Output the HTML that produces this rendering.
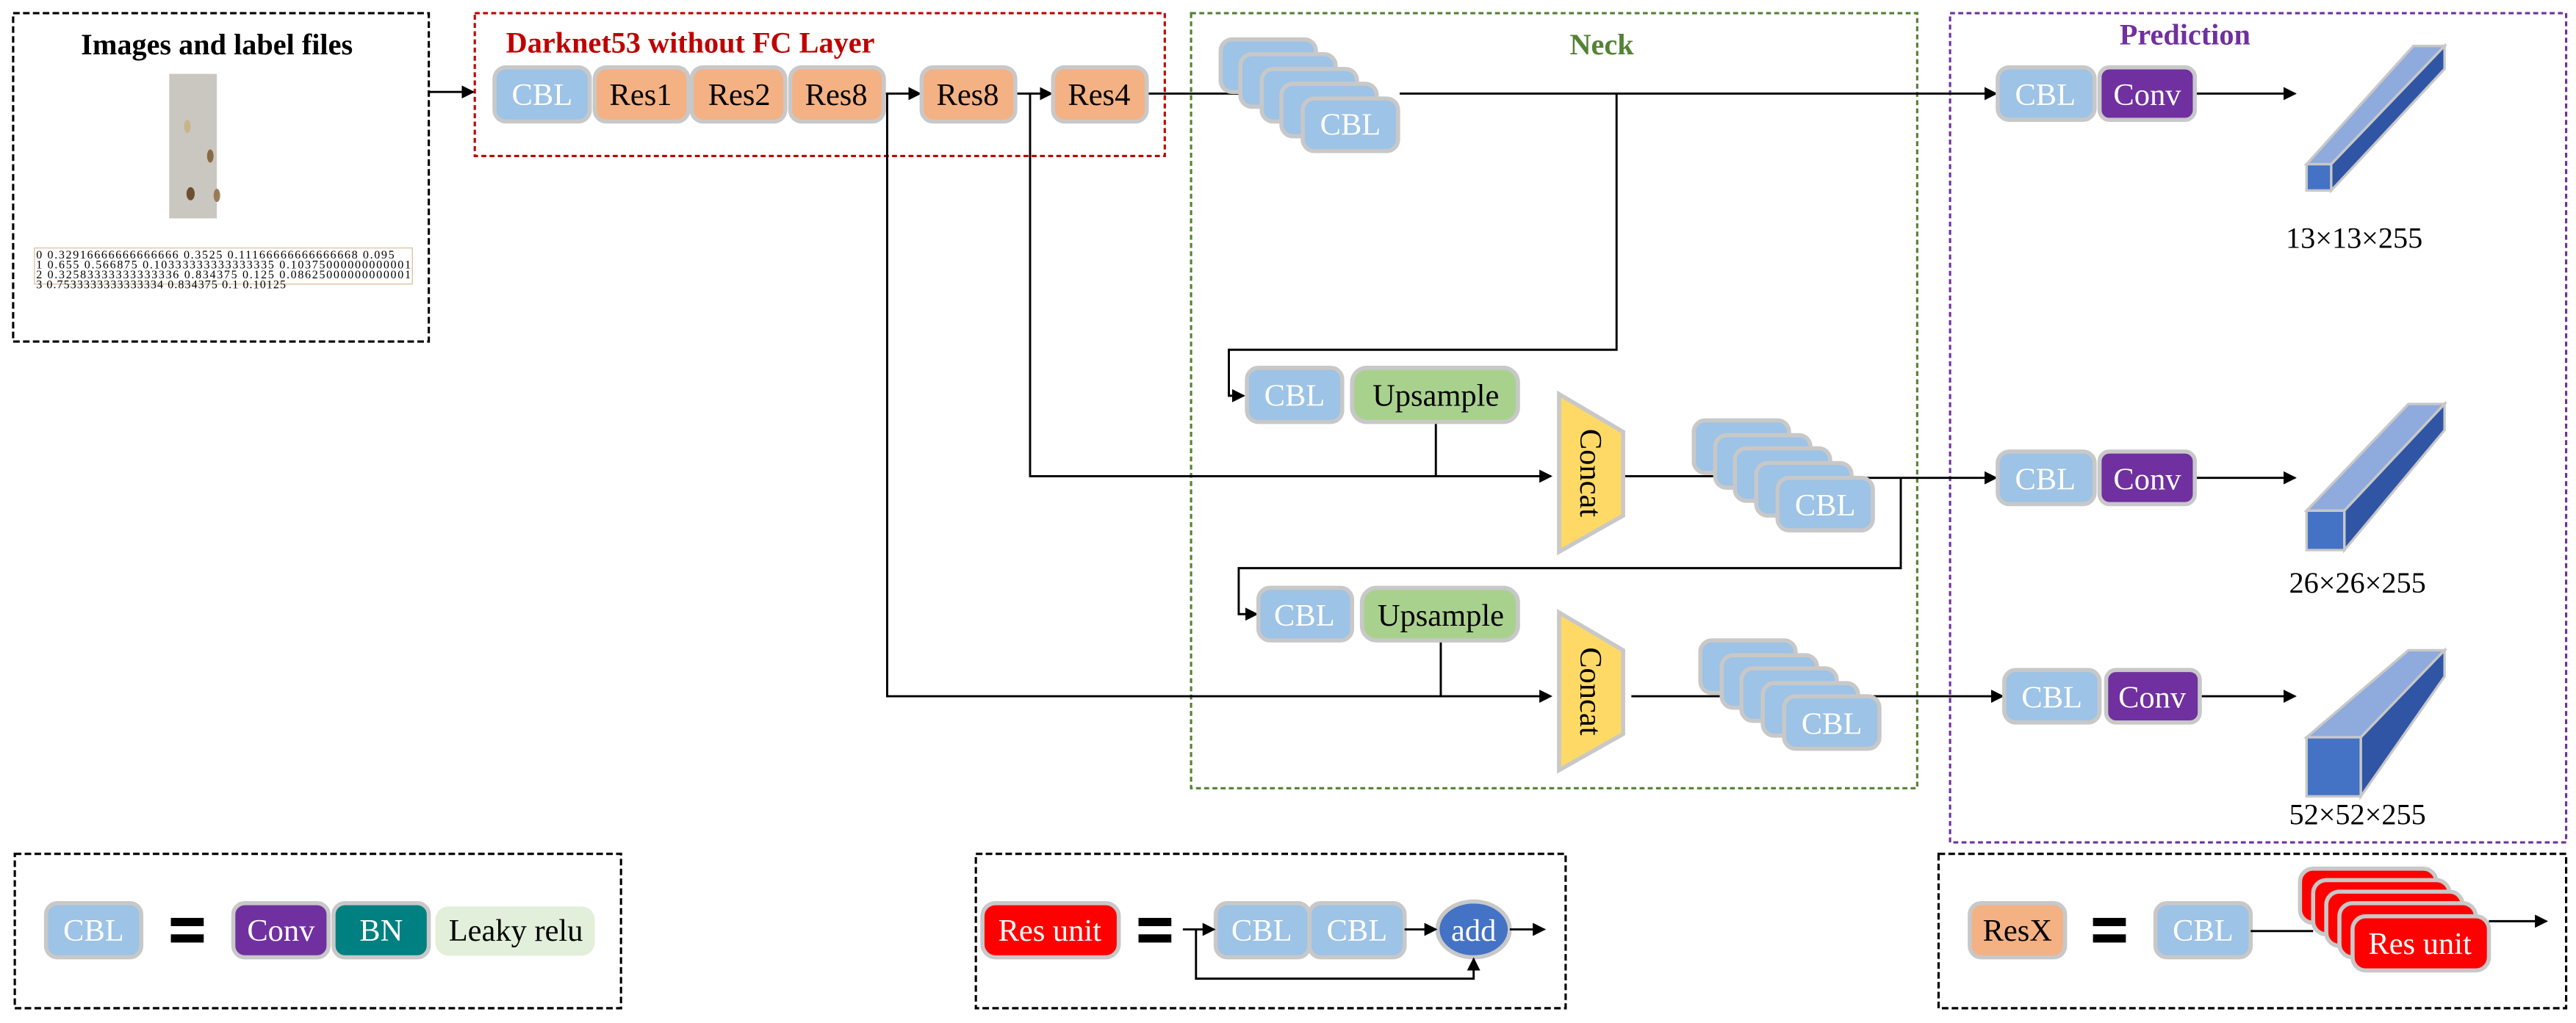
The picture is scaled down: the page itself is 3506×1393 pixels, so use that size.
<!DOCTYPE html>
<html><head><meta charset="utf-8"><style>
html,body{margin:0;padding:0;background:#fff}
svg{display:block}
svg text{font-family:"Liberation Serif","DejaVu Serif",serif !important}
</style></head><body>
<svg width="3506" height="1393" viewBox="0 0 1568 623" xmlns="http://www.w3.org/2000/svg" font-family="Liberation Serif, serif">
<defs>
<marker id="a" markerWidth="8" markerHeight="8" refX="7" refY="4" orient="auto" markerUnits="userSpaceOnUse"><path d="M0,0 L8,4 L0,8 z" fill="#000"/></marker>
</defs>
<g fill="none" stroke-width="1.4">
<rect x="8" y="8" width="253" height="200" stroke="#000" stroke-dasharray="4,2"/>
<rect x="289" y="8" width="420" height="87" stroke="#c00000" stroke-dasharray="3,2"/>
<rect x="725" y="8" width="442" height="472" stroke="#548235" stroke-dasharray="3,2"/>
<rect x="1187" y="8" width="375" height="505" stroke="#7030a0" stroke-dasharray="3,2"/>
<rect x="9" y="520" width="369" height="94" stroke="#000" stroke-dasharray="4,2"/>
<rect x="594" y="520" width="359" height="94" stroke="#000" stroke-dasharray="4,2"/>
<rect x="1180" y="520" width="382" height="94" stroke="#000" stroke-dasharray="4,2"/>
</g>
<text x="132" y="33" font-size="18" font-weight="bold" text-anchor="middle">Images and label files</text>
<rect x="103" y="45" width="29" height="88" fill="#c9c7bf"/>
<ellipse cx="114" cy="77" rx="2" ry="4" fill="#c8b48a"/><ellipse cx="128" cy="95" rx="2" ry="4" fill="#8a6a45"/><ellipse cx="116" cy="118" rx="2.5" ry="4" fill="#6e4e30"/><ellipse cx="132" cy="119" rx="2" ry="4" fill="#9a7a55"/>
<rect x="21" y="151" width="230" height="22" fill="#fff" stroke="#e0c0a0" stroke-width="0.6"/>
<g font-size="7.2"><text x="22" y="157.5" textLength="218">0 0.32916666666666666 0.3525 0.11166666666666668 0.095</text><text x="22" y="163.5" textLength="228">1 0.655 0.566875 0.10333333333333335 0.10375000000000001</text><text x="22" y="169.5" textLength="228">2 0.32583333333333336 0.834375 0.125 0.08625000000000001</text><text x="22" y="175.5" textLength="152">3 0.7533333333333334 0.834375 0.1 0.10125</text></g>
<text x="308" y="32" font-size="18" font-weight="bold" fill="#c00000">Darknet53 without FC Layer</text>
<text x="975" y="33" font-size="18" font-weight="bold" fill="#548235" text-anchor="middle">Neck</text>
<text x="1330" y="27" font-size="18" font-weight="bold" fill="#7030a0" text-anchor="middle">Prediction</text>

<g stroke="#000" stroke-width="1.3" fill="none">
<line x1="261" y1="56" x2="288" y2="56" marker-end="url(#a)"/>
<line x1="539" y1="57" x2="560" y2="57" marker-end="url(#a)"/>
<line x1="619" y1="57" x2="640" y2="57" marker-end="url(#a)"/>
<line x1="699" y1="57" x2="770" y2="57"/>
<line x1="852" y1="57" x2="1215" y2="57" marker-end="url(#a)"/>
<polyline points="984,57 984,213 748,213 748,241 757,241" marker-end="url(#a)"/>
<polyline points="540,57 540,424 944,424" marker-end="url(#a)"/>
<polyline points="627,57 627,290 944,290" marker-end="url(#a)"/>
<line x1="874" y1="257" x2="874" y2="290"/>
<line x1="877" y1="390" x2="877" y2="424"/>
<line x1="988" y1="290" x2="1060" y2="290"/>
<line x1="1111" y1="291" x2="1215" y2="291" marker-end="url(#a)"/>
<polyline points="1157,291 1157,346 754,346 754,374 765,374" marker-end="url(#a)"/>
<line x1="993" y1="424" x2="1060" y2="424"/>
<line x1="1114" y1="424" x2="1219" y2="424" marker-end="url(#a)"/>
<line x1="1336" y1="57" x2="1397" y2="57" marker-end="url(#a)"/>
<line x1="1336" y1="291" x2="1397" y2="291" marker-end="url(#a)"/>
<line x1="1339" y1="424" x2="1397" y2="424" marker-end="url(#a)"/>
</g>

<g stroke="#c8c8c8" stroke-width="2.5">
<rect x="301" y="41" width="58" height="33" rx="7" fill="#9dc3e6"/>
<rect x="362" y="41" width="57" height="33" rx="7" fill="#f4b183"/>
<rect x="421" y="41" width="57" height="33" rx="7" fill="#f4b183"/>
<rect x="481" y="41" width="57" height="33" rx="7" fill="#f4b183"/>
<rect x="561" y="41" width="57" height="33" rx="7" fill="#f4b183"/>
<rect x="641" y="41" width="57" height="33" rx="7" fill="#f4b183"/>
</g>
<g font-size="19" text-anchor="middle"><text x="330" y="64" fill="#fff">CBL</text><text x="390" y="64">Res1</text><text x="450" y="64">Res2</text><text x="509" y="64">Res8</text><text x="589" y="64">Res8</text><text x="669" y="64">Res4</text></g>

<g stroke="#c8c8c8" stroke-width="2.5" fill="#9dc3e6">
<rect x="743" y="24" width="58" height="32" rx="7"/><rect x="755" y="33" width="58" height="32" rx="7"/><rect x="768" y="42" width="58" height="32" rx="7"/><rect x="780" y="51" width="58" height="32" rx="7"/><rect x="793" y="60" width="58" height="32" rx="7"/>
<rect x="1031" y="256" width="58" height="32" rx="7"/><rect x="1044" y="265" width="58" height="32" rx="7"/><rect x="1056" y="273" width="58" height="32" rx="7"/><rect x="1069" y="282" width="58" height="32" rx="7"/><rect x="1082" y="291" width="58" height="32" rx="7"/>
<rect x="1035" y="390" width="58" height="32" rx="7"/><rect x="1048" y="399" width="58" height="32" rx="7"/><rect x="1060" y="407" width="58" height="32" rx="7"/><rect x="1073" y="416" width="58" height="32" rx="7"/><rect x="1086" y="424" width="58" height="32" rx="7"/>
<rect x="759" y="224" width="58" height="33" rx="7"/><rect x="766" y="358" width="57" height="32" rx="7"/>
<rect x="1216" y="41" width="59" height="32" rx="7"/><rect x="1216" y="275" width="59" height="32" rx="7"/><rect x="1220" y="408" width="58" height="32" rx="7"/>
</g>
<g stroke="#c8c8c8" stroke-width="2.5">
<rect x="823" y="224" width="101" height="33" rx="9" fill="#a9d18e"/><rect x="829" y="358" width="95" height="32" rx="9" fill="#a9d18e"/>
<rect x="1278" y="41" width="58" height="32" rx="6" fill="#7030a0"/><rect x="1278" y="275" width="58" height="32" rx="6" fill="#7030a0"/><rect x="1282" y="408" width="57" height="32" rx="6" fill="#7030a0"/>
<polygon points="949,240 988,263 988,314 949,336" fill="#ffd966"/>
<polygon points="949,373 988,396 988,447 949,469" fill="#ffd966"/>
</g>
<g font-size="19" text-anchor="middle" fill="#fff">
<text x="822" y="82">CBL</text><text x="1111" y="314">CBL</text><text x="1115" y="447">CBL</text>
<text x="788" y="247">CBL</text><text x="794" y="381">CBL</text>
<text x="1245" y="64">CBL</text><text x="1245" y="298">CBL</text><text x="1249" y="431">CBL</text>
<text x="1307" y="64">Conv</text><text x="1307" y="298">Conv</text><text x="1310" y="431">Conv</text>
</g>
<g font-size="19" text-anchor="middle"><text x="874" y="247">Upsample</text><text x="877" y="381">Upsample</text></g>
<g font-size="19"><text transform="translate(962,288) rotate(90)" text-anchor="middle">Concat</text><text transform="translate(962,421) rotate(90)" text-anchor="middle">Concat</text></g>

<g stroke="#c8c8c8" stroke-width="1.5">
<polygon points="1404,100 1419,100 1488,28 1469,28" fill="#8faadc"/><polygon points="1419,100 1488,28 1488,42 1419,116" fill="#2f55a4"/><rect x="1404" y="100" width="15" height="16" fill="#4472c4"/>
<polygon points="1404,311 1427,311 1488,246 1466,246" fill="#8faadc"/><polygon points="1427,311 1488,246 1488,262 1427,335" fill="#2f55a4"/><rect x="1404" y="311" width="23" height="24" fill="#4472c4"/>
<polygon points="1404,449 1437,449 1488,396 1466,396" fill="#8faadc"/><polygon points="1437,449 1488,396 1488,412 1437,485" fill="#2f55a4"/><rect x="1404" y="449" width="33" height="36" fill="#4472c4"/>
</g>
<g font-size="18" text-anchor="middle"><text x="1433" y="151">13×13×255</text><text x="1435" y="361">26×26×255</text><text x="1435" y="502">52×52×255</text></g>

<g stroke="#c8c8c8" stroke-width="2.5">
<rect x="28" y="550" width="58" height="33" rx="7" fill="#9dc3e6"/>
<rect x="142" y="550" width="58" height="33" rx="7" fill="#7030a0"/>
<rect x="203" y="550" width="58" height="33" rx="7" fill="#008080"/>
<rect x="598" y="550" width="83" height="33" rx="8" fill="#ff0000"/>
<rect x="740" y="550" width="57" height="33" rx="7" fill="#9dc3e6"/>
<rect x="797" y="550" width="58" height="33" rx="7" fill="#9dc3e6"/>
<ellipse cx="897" cy="566" rx="22" ry="17" fill="#4472c4"/>
<rect x="1199" y="550" width="58" height="33" rx="7" fill="#f4b183"/>
<rect x="1312" y="550" width="58" height="33" rx="7" fill="#9dc3e6"/>
<rect x="1400" y="529" width="83" height="33" rx="8" fill="#ff0000"/>
<rect x="1408" y="536" width="83" height="33" rx="8" fill="#ff0000"/>
<rect x="1416" y="543" width="83" height="33" rx="8" fill="#ff0000"/>
<rect x="1424" y="550" width="83" height="33" rx="8" fill="#ff0000"/>
<rect x="1432" y="558" width="83" height="33" rx="8" fill="#ff0000"/>
</g>
<rect x="265" y="552" width="97" height="30" rx="8" fill="#e2efda"/>
<g fill="#000"><rect x="104" y="559" width="20" height="5"/><rect x="104" y="569" width="20" height="5"/><rect x="693" y="559" width="20" height="5"/><rect x="693" y="569" width="20" height="5"/><rect x="1274" y="559" width="20" height="5"/><rect x="1274" y="569" width="20" height="5"/></g>
<g stroke="#000" stroke-width="1.3" fill="none">
<line x1="720" y1="566" x2="739" y2="566" marker-end="url(#a)"/>
<line x1="855" y1="566" x2="874" y2="566" marker-end="url(#a)"/>
<line x1="919" y1="566" x2="940" y2="566" marker-end="url(#a)"/>
<polyline points="728,566 728,596 897,596 897,584" marker-end="url(#a)"/>
<line x1="1370" y1="567" x2="1408" y2="567"/>
<line x1="1515" y1="561" x2="1550" y2="561" marker-end="url(#a)"/>
</g>
<g font-size="19" text-anchor="middle">
<text x="57" y="573" fill="#fff">CBL</text><text x="171" y="573" fill="#fff">Conv</text><text x="232" y="573" fill="#fff">BN</text><text x="314" y="573">Leaky relu</text>
<text x="639" y="573" fill="#fff">Res unit</text><text x="768" y="573" fill="#fff">CBL</text><text x="826" y="573" fill="#fff">CBL</text><text x="897" y="573" fill="#fff">add</text>
<text x="1228" y="573">ResX</text><text x="1341" y="573" fill="#fff">CBL</text><text x="1473" y="581" fill="#fff">Res unit</text>
</g>
</svg>
</body></html>
